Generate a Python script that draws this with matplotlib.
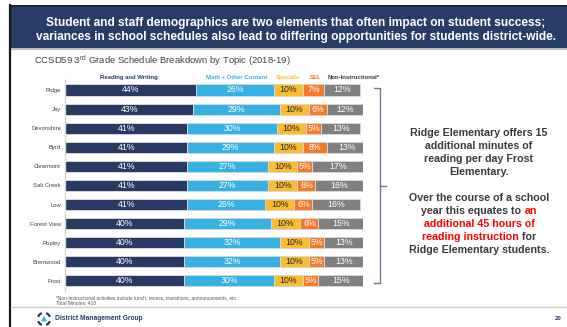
import matplotlib
matplotlib.use("Agg")
import matplotlib.pyplot as plt
from matplotlib.patches import Rectangle, Polygon, Arc
from matplotlib.lines import Line2D

plt.rcParams["font.family"] = ["Liberation Sans", "DejaVu Sans"]

# ---- data -------------------------------------------------------------
schools = ["Ridge", "Jay", "Devonshire", "Byrd", "Clearmont", "Salt Creek",
           "Low", "Forest View", "Rupley", "Brentwood", "Frost"]
reading = [44, 43, 41, 41, 41, 41, 41, 40, 40, 40, 40]
math_other = [26, 29, 30, 29, 27, 27, 26, 29, 32, 32, 30]
specials = [10, 10, 10, 10, 10, 10, 10, 10, 10, 10, 10]
sel = [7, 6, 5, 8, 5, 6, 6, 6, 5, 5, 5]
non_instr = [12, 12, 13, 13, 17, 16, 16, 15, 13, 13, 15]
topics = ["Reading and Writing", "Math + Other Content", "Specials", "SEL",
          "Non-Instructional*"]

series = [reading, math_other, specials, sel, non_instr]
colors = ["#283a64", "#35b1e4", "#fcbc30", "#f47a28", "#808080"]
value_text_colors = ["white", "white", "#262626", "white", "white"]
legend_colors = ["#283a64", "#35b1e4", "#fcbc30", "#f47a28", "#3a3a3a"]
legend_x = [21.5, 57.5, 74.8, 84.0, 97.0]

W, H = 567, 327
fig = plt.figure(figsize=(W / 100, H / 100), dpi=100)
fig.patch.set_facecolor("white")


def fx(x):
    return x / W


def fy(y):
    return 1 - y / H


# ---- slide frame and header -------------------------------------------
fig.add_artist(Rectangle((fx(10), fy(48)), 1 - fx(10), 43 / H,
                         transform=fig.transFigure, color="#283d66", lw=0))
fig.add_artist(Line2D([fx(10), 1], [fy(5.5), fy(5.5)], color="#1c2230", lw=1.2))
fig.add_artist(Line2D([fx(10), 1], [fy(49), fy(49)], color="#bdbdbd", lw=1.5))
fig.add_artist(Line2D([fx(10), fx(10)], [fy(5), 0], color="#1a1a1a", lw=1.6))

fig.text(fx(296), fy(23), "Student and staff demographics are two elements that often impact on student success;",
         color="white", fontsize=8.6, fontweight="bold", ha="center", va="center")
fig.text(fx(296), fy(37), "variances in school schedules also lead to differing opportunities for students district-wide.",
         color="white", fontsize=8.6, fontweight="bold", ha="center", va="center")

fig.text(fx(34), fy(61), r"CCSD59 3$^{\mathregular{rd}}$ Grade Schedule Breakdown by Topic (2018-19)",
         color="#404040", fontsize=6.8, ha="left", va="center")

# ---- stacked bars ------------------------------------------------------
ax = fig.add_axes([fx(65), fy(290.5), (363 - 65) / W, (290.5 - 80.45) / H])
ax.set_facecolor("none")
n = len(schools)
ypos = list(range(n))
lefts = [0] * n
for vals, col, tcol in zip(series, colors, value_text_colors):
    ax.barh(ypos, vals, left=lefts, height=0.58, color=col,
            edgecolor="#d6d6d6", linewidth=0.7)
    for i, v in enumerate(vals):
        ax.text(lefts[i] + v / 2, i, f"{v}%", ha="center", va="center",
                fontsize=6.3, color=tcol)
    lefts = [l + v for l, v in zip(lefts, vals)]

for name, col, x in zip(topics, legend_colors, legend_x):
    ax.text(x, -0.68, name, ha="center", va="center", fontsize=4.3,
            fontweight="bold", color=col)

ax.set_xlim(0, 100)
ax.set_ylim(n - 0.5, -0.5)
ax.set_yticks(ypos)
ax.set_yticklabels(schools, fontsize=4.2, color="#404040")
ax.tick_params(axis="y", length=0, pad=2.9)
ax.set_xticks([])
for s in ["top", "right", "bottom"]:
    ax.spines[s].set_visible(False)
ax.spines["left"].set_color("#d6d6d6")
ax.spines["left"].set_linewidth(1.0)

# ---- bracket -----------------------------------------------------------
bc = "#6b7894"
fig.add_artist(Line2D([fx(374), fx(380), fx(380), fx(374)],
                      [fy(88), fy(88), fy(283), fy(283)], color=bc, lw=1.0))
fig.add_artist(Line2D([fx(380), fx(386)], [fy(186), fy(186)], color=bc, lw=1.0))

# ---- callout text ------------------------------------------------------
renderer = fig.canvas.get_renderer()
txt_kw = dict(fontsize=7.65, fontweight="bold")


def text_width(s):
    t = fig.text(0, 0, s + "|", **txt_kw)
    w1 = t.get_window_extent(renderer).width
    t.remove()
    t = fig.text(0, 0, "|", **txt_kw)
    w2 = t.get_window_extent(renderer).width
    t.remove()
    return w1 - w2


def rich_line(parts, xc, y):
    full = "".join(p for p, _ in parts)
    x0 = xc - text_width(full) / 2
    prefix = ""
    for s, c in parts:
        fig.text(fx(x0 + text_width(prefix)), fy(y), s, color=c,
                 ha="left", va="center", **txt_kw)
        prefix += s


dark = "#3b3b3b"
red = "#ff0000"
callout = [
    ([("Ridge Elementary offers 15", dark)], 133),
    ([("additional minutes of", dark)], 146),
    ([("reading per day Frost", dark)], 159),
    ([("Elementary.", dark)], 172),
    ([("Over the course of a school", dark)], 198),
    ([("year this equates to ", dark), ("an", red)], 211),
    ([("additional 45 hours of", red)], 224),
    ([("reading instruction", red), (" for", dark)], 237),
    ([("Ridge Elementary students.", dark)], 250),
]
for parts, y in callout:
    rich_line(parts, 479, y)

# ---- footnote and footer -----------------------------------------------
fig.text(fx(56), fy(298), "*Non-instructional activities include lunch, recess, transitions, announcements, etc.",
         fontsize=3.5, color="#595959", va="center")
fig.text(fx(56), fy(303.5), "Total Minutes: 410", fontsize=3.5, color="#595959", va="center")

fig.add_artist(Line2D([fx(11), 1], [fy(307), fy(307)], color="#d0d0d0", lw=1.0))

logo = fig.add_axes([fx(44 - 8), fy(319 + 8), 16 / W, 16 / H])
logo.set_xlim(-1, 1)
logo.set_ylim(-1, 1)
logo.axis("off")
for t1, t2 in [(20, 70), (110, 160), (200, 250), (290, 340)]:
    logo.add_patch(Arc((0, 0), 1.55, 1.55, theta1=t1, theta2=t2,
                       color="#283a64", lw=1.6))
logo.add_patch(Polygon([(-0.38, -0.3), (0.38, -0.3), (0, 0.38)],
                       closed=True, color="#35b1e4", lw=0))

fig.text(fx(55), fy(319), "District Management Group", fontsize=4.8,
         fontweight="bold", color="#283a64", va="center")
fig.text(fx(558), fy(319), "20", fontsize=4.3, fontweight="bold",
         color="#283a64", ha="center", va="center")

fig.savefig("out.png", dpi=100)
